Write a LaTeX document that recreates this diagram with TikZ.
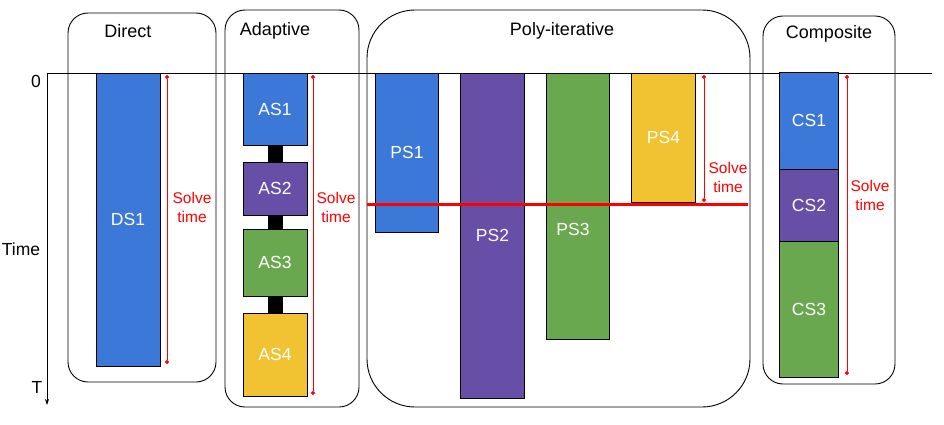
\documentclass[tikz,border=0pt]{standalone}
\usepackage{fontspec}
\setmainfont{Liberation Sans}
\usetikzlibrary{arrows.meta}
\definecolor{cblue}{HTML}{3C78D8}
\definecolor{cpurple}{HTML}{674EA7}
\definecolor{cgreen}{HTML}{6AA84F}
\definecolor{cyellow}{HTML}{F1C232}
\definecolor{cred}{HTML}{FF0000}
\tikzset{
  group/.style={draw=black, line width=0.9pt},
  blk/.style={draw=black, line width=0.9pt, inner sep=0pt, text=white, font=\fontsize{17.5}{20}\selectfont},
  title/.style={font=\fontsize{18}{20}\selectfont, text=black},
  axislbl/.style={font=\fontsize{17.5}{20}\selectfont, text=black},
  solve/.style={draw=cred, line width=0.9pt, {Circle[length=4pt]}-{Circle[length=4pt]}},
  solvelbl/.style={text=cred, align=center, font=\fontsize{15.5}{19}\selectfont},
  link/.style={draw=black, line width=15pt},
}
\begin{document}
\begin{tikzpicture}[x=1pt, y=-1pt]
\useasboundingbox (0,0) rectangle (944,425);
% group frames
\draw[group, rounded corners=20pt] (68,13) rectangle (216,382);
\draw[group, rounded corners=20pt] (225,10) rectangle (359,407);
\draw[group, rounded corners=48pt] (367,10) rectangle (750,407);
\draw[group, rounded corners=20pt] (763,16) rectangle (895,384);
\node[title] (tDirect) at (128,31) {Direct};
\node[title] (tAdaptive) at (275,31) {Adaptive};
\node[title] (tPoly) at (562,31) {Poly-iterative};
\node[title] (tComposite) at (829,34) {Composite};
% axes
\coordinate (origin) at (47,73);
\coordinate (tend) at (47,405);
\coordinate (hend) at (932,73);
\draw[line width=0.8pt] (origin) -- (hend);
\draw[line width=0.8pt, -{Stealth[length=6pt, width=4pt]}] (origin) -- (tend);
\node[axislbl] (zero) at (36,81) {0};
\node[axislbl] (timelbl) at (21,249) {Time};
\node[axislbl] (Tlbl) at (37,387) {T};
% Direct
\node[blk, fill=cblue, minimum width=64pt, minimum height=293pt] (DS1) at (128,219.5) {DS1};
\coordinate (d1) at (167,75); \coordinate (d2) at (167,364);
\draw[solve] (d1) -- (d2);
\node[solvelbl] (sDirect) at (192,207.5) {Solve\\time};
% Adaptive
\node[blk, fill=cblue, minimum width=64pt, minimum height=72pt] (AS1) at (275,109) {AS1};
\node[blk, fill=cpurple, minimum width=64pt, minimum height=53pt] (AS2) at (275,188.5) {AS2};
\node[blk, fill=cgreen, minimum width=64pt, minimum height=67pt] (AS3) at (275,262.5) {AS3};
\node[blk, fill=cyellow, minimum width=64pt, minimum height=83pt] (AS4) at (275,354.5) {AS4};
\draw[link] ([yshift=0.5pt]AS1.south) -- ([yshift=-0.5pt]AS2.north);
\draw[link] ([yshift=0.5pt]AS2.south) -- ([yshift=-0.5pt]AS3.north);
\draw[link] ([yshift=0.5pt]AS3.south) -- ([yshift=-0.5pt]AS4.north);
\coordinate (a1) at (313,75); \coordinate (a2) at (313,395);
\draw[solve] (a1) -- (a2);
\node[solvelbl] (sAdaptive) at (336,207.5) {Solve\\time};
% Poly-iterative
\node[blk, fill=cblue, minimum width=63pt, minimum height=159pt] (PS1) at (407,152.5) {PS1};
\node[blk, fill=cpurple, minimum width=64.5pt, minimum height=325pt] (PS2) at (492.5,235.5) {PS2};
\node[blk, fill=cgreen, minimum width=63.5pt, minimum height=266pt] (PS3) at (578,206) {};
\node[blk, draw=none] (PS3lbl) at (573,229) {PS3};
\node[blk, fill=cyellow, minimum width=63.5pt, minimum height=129pt] (PS4) at (663.5,137.5) {PS4};
\coordinate (r1) at (367,204); \coordinate (r2) at (748,204);
\draw[cred, line width=3pt] (r1) -- (r2);
\coordinate (p1) at (704,75); \coordinate (p2) at (704,202);
\draw[solve] (p1) -- (p2);
\node[solvelbl] (sPoly) at (728,177) {Solve\\time};
% Composite
\node[blk, fill=cblue, minimum width=59pt, minimum height=97pt] (CS1) at (809,120.5) {CS1};
\node[blk, fill=cpurple, minimum width=59pt, minimum height=72pt] (CS2) at (809,205) {CS2};
\node[blk, fill=cgreen, minimum width=59pt, minimum height=136pt] (CS3) at (809,309) {CS3};
\coordinate (c1) at (847,75); \coordinate (c2) at (847,375);
\draw[solve] (c1) -- (c2);
\node[solvelbl] (sComp) at (870,195.5) {Solve\\time};
\end{tikzpicture}
\end{document}
